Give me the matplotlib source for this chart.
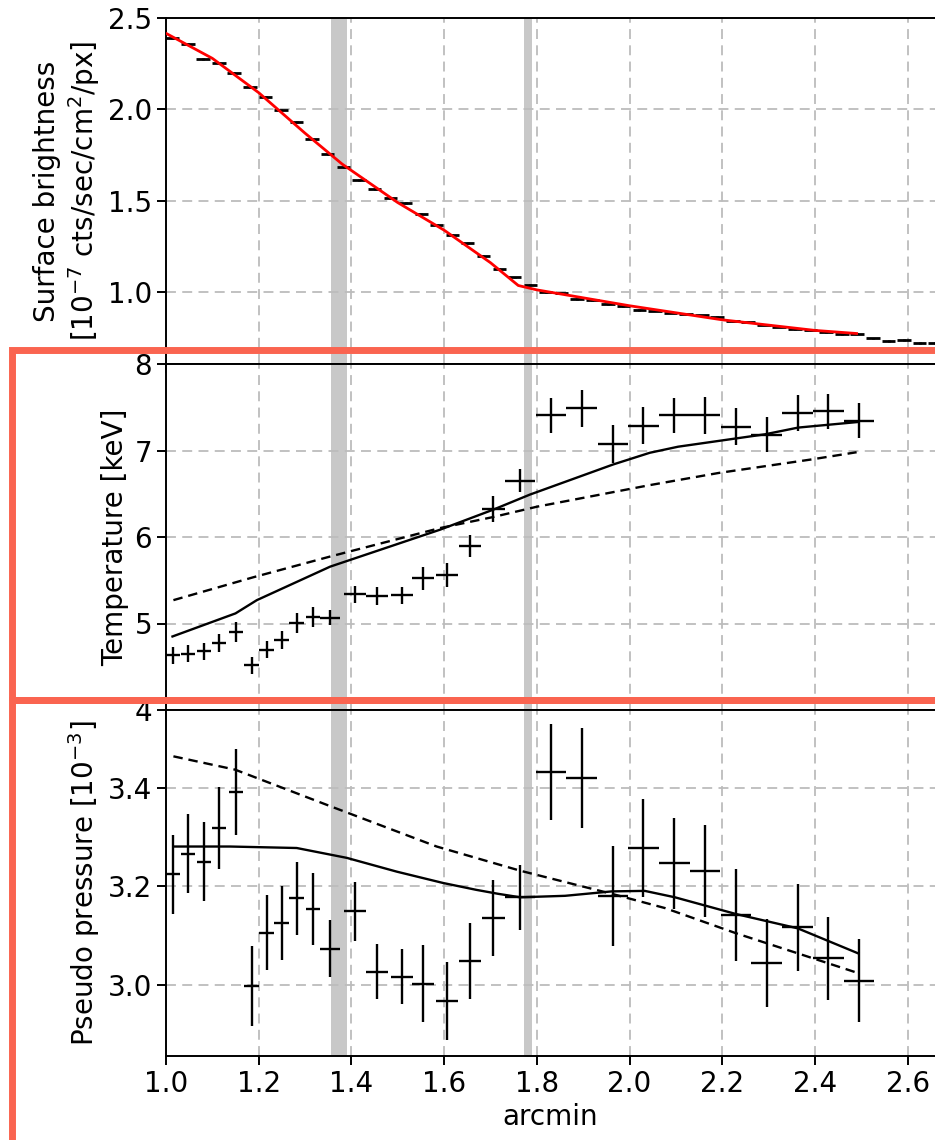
import numpy as np
import matplotlib
matplotlib.use('Agg')
import matplotlib.pyplot as plt
from matplotlib.patches import Rectangle
from matplotlib.ticker import MultipleLocator

plt.rcParams['font.size'] = 20
plt.rcParams['axes.linewidth'] = 1.4
plt.rcParams['xtick.major.size'] = 6.5
plt.rcParams['ytick.major.size'] = 6.5
plt.rcParams['xtick.major.width'] = 1.4
plt.rcParams['ytick.major.width'] = 1.4

# surface brightness profile (10^-7 cts/sec/cm^2/px)
sb_r = [1.013, 1.047, 1.080, 1.114, 1.147, 1.181, 1.215, 1.248, 1.282, 1.315,
        1.349, 1.383, 1.416, 1.450, 1.484, 1.517, 1.551, 1.584, 1.618, 1.651,
        1.685, 1.719, 1.752, 1.786, 1.819, 1.853, 1.887, 1.920, 1.954, 1.987,
        2.021, 2.055, 2.088, 2.122, 2.156, 2.189, 2.223, 2.256, 2.290, 2.323,
        2.357, 2.391, 2.424, 2.458, 2.491, 2.525, 2.559, 2.592, 2.626, 2.659]
sb = [2.392, 2.356, 2.276, 2.255, 2.197, 2.121, 2.066, 1.995, 1.929, 1.836,
      1.757, 1.686, 1.613, 1.564, 1.513, 1.487, 1.427, 1.365, 1.314, 1.268,
      1.199, 1.126, 1.079, 1.040, 1.000, 0.996, 0.962, 0.957, 0.931, 0.922,
      0.900, 0.898, 0.887, 0.878, 0.871, 0.865, 0.838, 0.834, 0.821, 0.810,
      0.798, 0.792, 0.781, 0.767, 0.772, 0.745, 0.729, 0.738, 0.719, 0.719]
sb_xerr = 0.0145
sb_yerr = 0.005

# best-fit model for surface brightness
sb_model_r = [1.0, 1.1, 1.2, 1.3, 1.38, 1.5, 1.6, 1.7, 1.76, 1.8, 2.0, 2.2, 2.4, 2.49]
sb_model = [2.416, 2.279, 2.091, 1.869, 1.700, 1.489, 1.338, 1.160, 1.035, 1.011,
            0.924, 0.847, 0.789, 0.772]

# spectral bins, temperature and pseudo pressure
r = [1.0145, 1.048, 1.082, 1.115, 1.151, 1.185, 1.217, 1.250, 1.282, 1.317,
     1.354, 1.408, 1.456, 1.509, 1.555, 1.606, 1.656, 1.706, 1.764, 1.831,
     1.897, 1.964, 2.030, 2.097, 2.163, 2.230, 2.296, 2.363, 2.429, 2.495]
r_err = [0.015, 0.015, 0.015, 0.015, 0.015, 0.016, 0.016, 0.016, 0.016, 0.016,
         0.022, 0.024, 0.024, 0.024, 0.024, 0.024, 0.024, 0.025, 0.033, 0.033,
         0.033, 0.033, 0.033, 0.033, 0.033, 0.033, 0.033, 0.033, 0.033, 0.033]

kT = [4.632, 4.651, 4.678, 4.774, 4.902, 4.515, 4.697, 4.805, 5.011, 5.076,
      5.068, 5.338, 5.319, 5.327, 5.521, 5.559, 5.900, 6.320, 6.652, 7.408,
      7.486, 7.080, 7.289, 7.405, 7.405, 7.274, 7.184, 7.431, 7.451, 7.344]
kT_err = [0.097, 0.097, 0.10, 0.105, 0.116, 0.10, 0.10, 0.105, 0.116, 0.116,
          0.087, 0.10, 0.10, 0.10, 0.135, 0.135, 0.126, 0.15, 0.135, 0.20,
          0.215, 0.22, 0.215, 0.205, 0.21, 0.213, 0.207, 0.21, 0.20, 0.203]

kT_model_r = [1.014, 1.15, 1.196, 1.354, 1.591, 1.706, 1.785, 1.965, 2.044, 2.105,
              2.292, 2.364, 2.494]
kT_model = [4.85, 5.117, 5.27, 5.657, 6.084, 6.316, 6.49, 6.839, 6.974, 7.044,
            7.187, 7.265, 7.33]
kT_model2_r = [1.016, 1.188, 1.354, 1.591, 1.706, 1.80, 2.044, 2.192, 2.393, 2.49]
kT_model2 = [5.27, 5.534, 5.774, 6.103, 6.231, 6.35, 6.60, 6.74, 6.897, 6.98]

P = [3.225, 3.266, 3.250, 3.319, 3.391, 2.998, 3.106, 3.125, 3.176, 3.155,
     3.074, 3.150, 3.027, 3.017, 3.003, 2.968, 3.049, 3.136, 3.178, 3.432,
     3.420, 3.181, 3.278, 3.247, 3.232, 3.142, 3.045, 3.117, 3.054, 3.009]
P_err = [0.080, 0.080, 0.080, 0.083, 0.087, 0.081, 0.076, 0.075, 0.074, 0.073,
         0.058, 0.060, 0.056, 0.056, 0.078, 0.079, 0.077, 0.078, 0.066, 0.098,
         0.102, 0.101, 0.099, 0.092, 0.093, 0.093, 0.089, 0.088, 0.084, 0.085]

P_model_r = [1.016, 1.138, 1.282, 1.390, 1.498, 1.598, 1.670, 1.717, 1.764, 1.861,
             1.962, 2.033, 2.098, 2.230, 2.363, 2.494]
P_model = [3.281, 3.281, 3.278, 3.258, 3.230, 3.207, 3.193, 3.185, 3.178, 3.181,
           3.190, 3.191, 3.178, 3.144, 3.115, 3.064]
P_model2_r = [1.016, 1.149, 1.354, 1.584, 1.764, 1.962, 2.077, 2.230, 2.364, 2.494]
P_model2 = [3.464, 3.437, 3.363, 3.281, 3.232, 3.185, 3.156, 3.105, 3.064, 3.024]

# edges (grey bands)
bands = [(1.357, 1.390), (1.772, 1.790)]

W, H = 935, 1140
fig = plt.figure(figsize=(W / 100, H / 100), dpi=100)
left = 166 / W
width = 1 - left
h = 346 / H
ax1 = fig.add_axes([left, 1 - 364 / H, width, h])
ax2 = fig.add_axes([left, 1 - 710 / H, width, h], sharex=ax1)
ax3 = fig.add_axes([left, 1 - 1056 / H, width, h], sharex=ax1)

for ax in (ax1, ax2, ax3):
    for b in bands:
        ax.axvspan(b[0], b[1], color='#c8c8c8', lw=0, zorder=0.3)
    ax.set_axisbelow(True)
    ax.grid(True, linestyle='--', color='#bcbcbc', linewidth=1.3, dashes=(5.5, 3.5))
    ax.spines['right'].set_visible(False)

ax1.errorbar(sb_r, sb, xerr=sb_xerr, yerr=sb_yerr, fmt='none', ecolor='k',
             elinewidth=2.0, capsize=0, zorder=2)
ax1.plot(sb_model_r, sb_model, color='red', lw=2.0, zorder=3)
ax1.set_ylim(0.605, 2.5)
ax1.yaxis.set_major_locator(MultipleLocator(0.5))
ax1.set_ylabel('Surface brightness\n[$10^{-7}$ cts/sec/cm$^2$/px]')

ax2.errorbar(r, kT, xerr=r_err, yerr=kT_err, fmt='none', ecolor='k',
             elinewidth=1.7, capsize=0, zorder=2)
ax2.plot(kT_model_r, kT_model, 'k-', lw=1.7, zorder=3)
ax2.plot(kT_model2_r, kT_model2, 'k--', lw=1.7, dashes=(4, 2.5), zorder=3)
ax2.set_ylim(4, 8)
ax2.yaxis.set_major_locator(MultipleLocator(1))
ax2.set_ylabel('Temperature [keV]')

ax3.errorbar(r, P, xerr=r_err, yerr=P_err, fmt='none', ecolor='k',
             elinewidth=1.7, capsize=0, zorder=2)
ax3.plot(P_model_r, P_model, 'k-', lw=1.7, zorder=3)
ax3.plot(P_model2_r, P_model2, 'k--', lw=1.7, dashes=(4, 2.5), zorder=3)
ax3.set_ylim(2.856, 3.558)
ax3.yaxis.set_major_locator(MultipleLocator(0.2))
ax3.set_ylabel('Pseudo pressure [$10^{-3}$]')
ax3.set_xlabel('arcmin')

ax1.set_xlim(1.0, 1.0 + (W - 166) / 463.5)
ax1.xaxis.set_major_locator(MultipleLocator(0.2))
plt.setp(ax1.get_xticklabels(), visible=False)
plt.setp(ax2.get_xticklabels(), visible=False)

# highlight boxes
red = '#fa6450'
for y0, y1 in [(350, 699.5), (700, 1160)]:
    rect = Rectangle((11.5 / W, 1 - y1 / H), (960 - 11.5) / W, (y1 - y0) / H,
                     transform=fig.transFigure, fill=False, edgecolor=red,
                     linewidth=5, zorder=10, clip_on=False)
    fig.add_artist(rect)

fig.savefig('out.png', dpi=100)
